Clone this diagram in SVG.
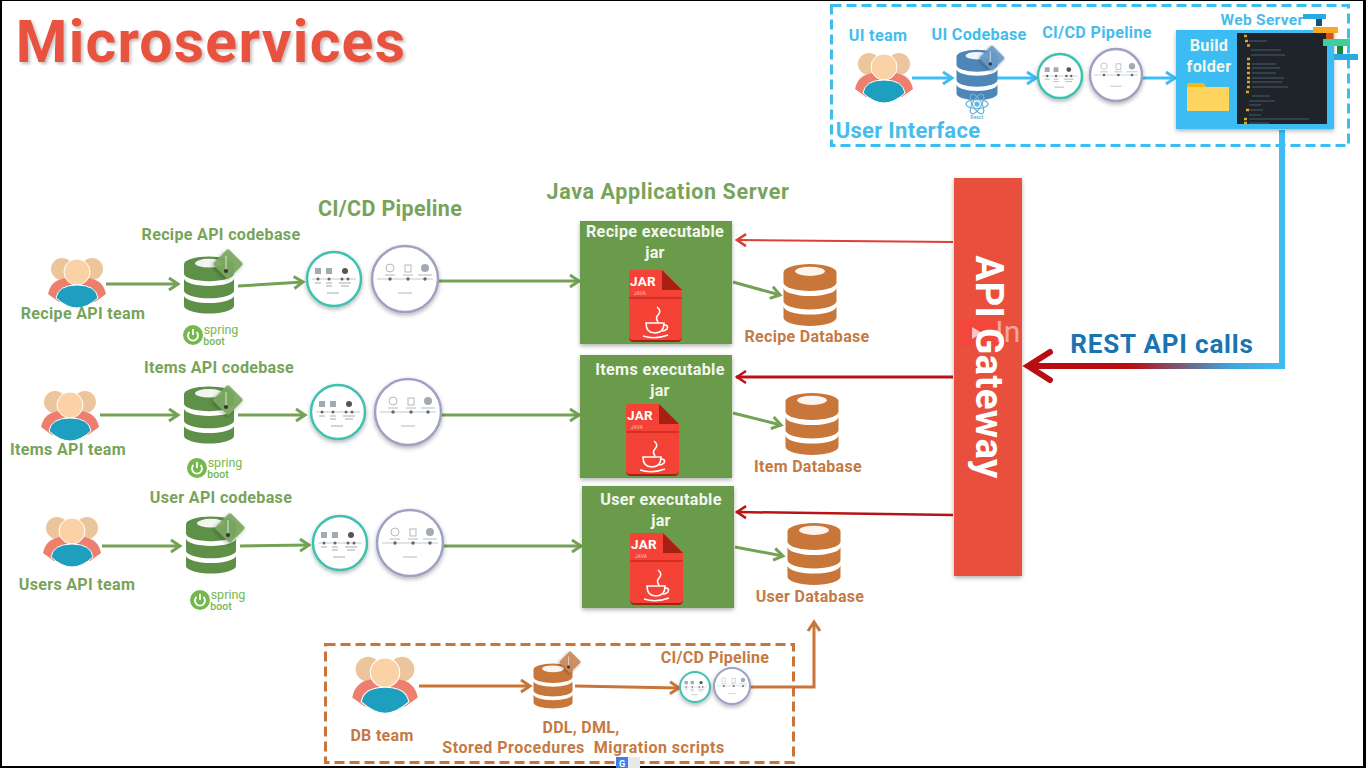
<svg xmlns="http://www.w3.org/2000/svg" width="1366" height="768" viewBox="0 0 1366 768">
<style>
text{font-family:"Roboto","Liberation Sans",sans-serif;font-weight:700;text-anchor:middle;letter-spacing:.3px}
.g{fill:#78a35a;font-size:16.100px}
.gb{fill:#78a35a;font-size:21.500px}
.o{fill:#c47a45;font-size:16px}
.b{fill:#45bcec;font-size:16.200px}
.w{fill:#f2f7ee;font-size:16.200px}
.c{fill:none;stroke-width:3}
.cg{stroke:#74a254;marker-end:url(#mg)}
.cb{stroke:#3fbdf2;marker-end:url(#mb)}
.co{stroke:#c9753a;marker-end:url(#mo)}
.box{fill:#6a9b4c;filter:url(#sh)}
.p1{fill:#fff;stroke:#3fc1b0;stroke-width:2.500;filter:url(#sh)}
.p2{fill:#fff;stroke:#9ea1c4;stroke-width:2.500;filter:url(#sh)}
.tl{fill:none;stroke:#b4b9bd;stroke-width:.8}
.td{fill:#666}
.ti{fill:#a3abb2}
.gdb{color:#5f9048}
.odb{color:#c9763a}
</style>
<defs>
<filter id="sh" x="-20%" y="-20%" width="140%" height="140%"><feDropShadow dx="0" dy="2" stdDeviation="2" flood-color="#000" flood-opacity=".3"/></filter>
<filter id="ts" x="-5%" y="-20%" width="110%" height="140%"><feDropShadow dx="2" dy="2" stdDeviation="1.500" flood-color="#000" flood-opacity=".25"/></filter>
<linearGradient id="rest" gradientUnits="userSpaceOnUse" x1="1285" y1="0" x2="1130" y2="0"><stop offset="0" stop-color="#3fbdf2"/><stop offset=".35" stop-color="#3fa5dc"/><stop offset="1" stop-color="#b80d12"/></linearGradient>
<marker id="mg" markerUnits="userSpaceOnUse" markerWidth="16" markerHeight="16" refX="12" refY="8" orient="auto"><path d="M3,2 L12,8 L3,14" fill="none" stroke="#74a254" stroke-width="3"/></marker>
<marker id="mb" markerUnits="userSpaceOnUse" markerWidth="16" markerHeight="16" refX="12" refY="8" orient="auto"><path d="M3,2 L12,8 L3,14" fill="none" stroke="#3fbdf2" stroke-width="3"/></marker>
<marker id="mo" markerUnits="userSpaceOnUse" markerWidth="16" markerHeight="16" refX="12" refY="8" orient="auto"><path d="M3,2 L12,8 L3,14" fill="none" stroke="#c9753a" stroke-width="3"/></marker>
<marker id="mr" markerUnits="userSpaceOnUse" markerWidth="16" markerHeight="16" refX="13" refY="8" orient="auto"><path d="M3,2 L12,8 L3,14" fill="none" stroke="#dc3f35" stroke-width="2.500"/></marker>
<marker id="md" markerUnits="userSpaceOnUse" markerWidth="16" markerHeight="16" refX="13" refY="8" orient="auto"><path d="M3,2 L12,8 L3,14" fill="none" stroke="#b81418" stroke-width="2.500"/></marker>
<g id="team">
<circle cx="-15" cy="-14" r="11" fill="#edc59d"/><circle cx="15" cy="-14" r="11" fill="#edc59d"/>
<path d="M-29,11 Q-26,-4 -10,-5 L10,-5 Q26,-4 29,11 L18,19 L-18,19 Z" fill="#ee7f6e"/>
<circle cx="0" cy="-11" r="13" fill="#fad2a6" stroke="#fff" stroke-width="1"/>
<path d="M-21,15 Q-19,2 0,2 Q19,2 21,15 Q10,25 0,25 Q-10,25 -21,15 Z" fill="#1f9fc0" stroke="#fff" stroke-width="1"/>
</g>
<g id="db" fill="currentColor">
<path d="M-25,-22 A25,8 0 0 1 25,-22 V-12 A25,8 0 0 1 -25,-12 Z"/>
<path d="M-25,-7 A25,8 0 0 0 25,-7 V6 A25,8 0 0 1 -25,6 Z"/>
<path d="M-25,11 A25,8 0 0 0 25,11 V22 A25,8 0 0 1 -25,22 Z"/>
<ellipse cx="0" cy="-23" rx="14" ry="4.500" fill="#fff" fill-opacity=".92"/>
</g>
<g id="tag">
<rect x="-11" y="-11" width="22" height="22" rx="2" transform="rotate(45)" fill="currentColor" fill-opacity=".92" filter="url(#sh)"/>
<path d="M-2,-8 V7" stroke="#fff" stroke-opacity=".5" stroke-width="1.500"/>
<circle cx="-2" cy="7" r="2" fill="#333"/>
</g>
<g id="pipeA">
<path d="M-22,0 H22" class="tl"/>
<circle cx="-16" cy="0" r="1.500" class="td"/><circle cx="-5" cy="0" r="1.500" class="td"/><circle cx="8" cy="0" r="1.500" class="td"/><circle cx="14" cy="0" r="1.500" class="td"/>
<rect x="-19" y="-11" width="6" height="6" class="ti"/><rect x="-8" y="-11" width="6" height="6" class="ti"/><rect x="8" y="-11" width="6" height="6" rx="3" fill="#555"/>
<path d="M-19,4 h6 M-8,4 h6 M-8,7 h6 M5,4 h12 M7,7 h8 M-7,14 h12" stroke="#a3abb2" stroke-width="1"/>
</g>
<g id="pipeB">
<path d="M-28,0 H28" class="tl"/>
<circle cx="-15" cy="0" r="1.700" class="td"/><circle cx="3" cy="0" r="1.700" class="td"/><circle cx="20" cy="0" r="1.700" class="td"/>
<circle cx="-15" cy="-11" r="4" fill="none" stroke="#b4b9bd"/><rect x="0" y="-14" width="6" height="7" fill="none" stroke="#b4b9bd"/><circle cx="20" cy="-11" r="4" class="ti"/>
<path d="M-20,-4 h10 M-2,-4 h10 M13,-4 h14 M-7,14 h14" stroke="#b4b9bd" stroke-width="1"/>
</g>
<g id="jar">
<path d="M-26,-34 Q-26,-36 -24,-36 H7 L27,-16 V30 Q27,34 23,34 H-22 Q-26,34 -26,30 Z" fill="#f44336"/>
<path d="M7,-36 L27,-16 H7 Z" fill="#a81f14"/>
<path d="M-26,-8 H27" stroke="#c9281c" stroke-width="1.500"/>
<path d="M-26,30 Q-26,34 -22,34 H23 Q27,34 27,30 V31 Q27,36 22,36 H-21 Q-26,36 -26,31 Z" fill="#a81f14"/>
<text x="-12" y="-20" style="font-size:13.500px;fill:#fff">JAR</text>
<text x="-15" y="-11" style="font-size:4.500px;fill:#ffc9c2;font-weight:400">JAVA</text>
<g fill="none" stroke="#fff" stroke-width="1.600">
<path d="M2,1 Q7,5 3,9 Q0,12 3,16"/><path d="M-9,17 Q-9,27 0,27 Q9,27 9,17 Z"/><path d="M9,19 Q14,19 12,23 Q10,25 7,25"/><path d="M-12,30 Q0,34 13,29"/>
</g>
</g>
<g id="spring">
<circle cx="-15" cy="0" r="10" fill="#74b84e"/>
<path d="M-18.500,-3 A5,5 0 1 0 -11.500,-3 M-15,-6 V0" fill="none" stroke="#fff" stroke-width="1.800"/>
<text x="13" y="-1" style="font-size:12.500px;fill:#74b84e;font-weight:400;letter-spacing:0">spring</text>
<text x="6" y="10" style="font-size:10.500px;fill:#74b84e;font-weight:500;letter-spacing:0">boot</text>
</g>
</defs>

<rect width="1366" height="768" fill="#000"/>
<rect x="2" y="1" width="1361" height="765" fill="#fff"/>

<text id="title" x="211" y="62" filter="url(#ts)" style="font-size:59px;fill:#e8523f;letter-spacing:1.200px">Microservices</text>
<text class="gb" x="390" y="216">CI/CD Pipeline</text>
<text class="gb" x="668" y="199" style="letter-spacing:.6px">Java Application Server</text>

<g id="ui-section">
<rect x="831.500" y="5.500" width="517" height="140" fill="none" stroke="#3dbcf0" stroke-width="3" stroke-dasharray="10 5"/>
<text class="b" x="878" y="41">UI team</text>
<text class="b" x="979" y="40">UI Codebase</text>
<text class="b" x="1097" y="38">CI/CD Pipeline</text>
<text x="908" y="138" style="font-size:22px;fill:#45bcec">User Interface</text>
</g>
<g id="db-section">
<rect x="325.500" y="644.500" width="468" height="118" fill="none" stroke="#c9753a" stroke-width="3" stroke-dasharray="10 5"/>
<text class="o" x="382" y="741">DB team</text>
<text class="o" x="715" y="663">CI/CD Pipeline</text>
<text class="o" x="581" y="733">DDL, DML,</text>
<text class="o" x="583.500" y="753" style="white-space:pre;letter-spacing:.5px">Stored Procedures  Migration scripts</text>
</g>

<g id="connectors">
<g class="c">
<path class="cg" d="M106,284 H178"/><path class="cg" d="M238,286 L303,282"/><path class="cg" d="M438,281 H579"/><path class="cg" d="M733,282 L780,295"/>
<path class="cg" d="M100,415 H178"/><path class="cg" d="M238,415 H305"/><path class="cg" d="M441,415 H579"/><path class="cg" d="M733,413 L781,425"/>
<path class="cg" d="M102,546 H180"/><path class="cg" d="M240,546 L309,545"/><path class="cg" d="M443,546 H581"/><path class="cg" d="M735,547 L783,556"/>
<path class="cb" d="M912,78 H952"/><path class="cb" d="M994,78 H1036"/><path class="cb" d="M1135,78 H1175"/>
<path class="co" d="M419,686 H530"/><path class="co" d="M575,686 L679,688"/><path class="co" d="M750,687 H814 V622"/>
</g>
<path d="M953,242 L736,240" fill="none" stroke="#dc3f35" stroke-width="2" marker-end="url(#mr)"/>
<path d="M953,377 H736" fill="none" stroke="#b81418" stroke-width="3" marker-end="url(#md)"/>
<path d="M953,515 L736,512" fill="none" stroke="#b81418" stroke-width="2.500" marker-end="url(#md)"/>
<path d="M1282,130 V369" fill="none" stroke="#3fbdf2" stroke-width="6"/>
<rect x="1030" y="363" width="255" height="6" fill="url(#rest)"/>
<path d="M1050,352 L1028,366 L1050,380" fill="none" stroke="#b80d12" stroke-width="6" stroke-linecap="round"/>
</g>

<g id="ui-team"><use href="#team" transform="translate(884,78)"/></g>
<g id="ui-codebase" color="#4f86b8">
<use href="#db" transform="translate(977,75) scale(.82,.84)"/>
<use href="#tag" transform="translate(992,58) scale(.85)" color="#6a9ac8"/>
<g fill="none" stroke="#63b3dc" stroke-width="1.200"><ellipse cx="977" cy="104" rx="11" ry="4.500"/><ellipse cx="977" cy="104" rx="11" ry="4.500" transform="rotate(60 977 104)"/><ellipse cx="977" cy="104" rx="11" ry="4.500" transform="rotate(120 977 104)"/><circle cx="977" cy="104" r="2" fill="#63b3dc"/></g>
<text x="977" y="119" style="font-size:4.500px;fill:#63b3dc">React</text>
</g>
<g id="ui-pipeline">
<circle class="p1" cx="1060" cy="76" r="22"/><use href="#pipeA" transform="translate(1060,76) scale(.8)"/>
<circle class="p2" cx="1116" cy="75" r="26"/><use href="#pipeB" transform="translate(1116,75) scale(.8)"/>
</g>
<g id="web-server">
<text class="b" x="1262" y="25" style="font-size:15.500px">Web Server</text>
<rect x="1176" y="30" width="158" height="99" fill="#3ebcf4" filter="url(#sh)"/>
<rect x="1237" y="33" width="90" height="91" fill="#1e2429"/>
<text class="w" x="1209" y="51">Build</text><text class="w" x="1209" y="72">folder</text>
<path d="M1187,83 H1203 L1206,87 H1229 V111 H1187 Z" fill="#fdd45e"/><path d="M1187,83 H1203 L1206,87 H1187 Z" fill="#f9b60c"/>
<path d="M1249,41 h18 M1251,50 h30 M1251,55 h34 M1252,64 h24 M1252,68 h28 M1252,73 h24 M1252,78 h32 M1252,82 h30 M1252,87 h36 M1252,96 h18 M1249,101 h26 M1249,105 h12 M1249,110 h14 M1249,115 h12 M1249,119 h60 M1249,123 h20" stroke="#3d4a54" stroke-width="1.500"/>
<path d="M1244,36 h3 M1245,41 h3 M1247,45.500 h3 M1247,59 h3 M1247,64 h3 M1247,68 h3 M1247,73 h3 M1247,78 h3 M1247,82 h3 M1247,87 h3 M1246,92 h3 M1246,110 h3 M1244,119 h3 M1244,123 h3" stroke="#d9a92c" stroke-width="2.500"/>
<rect x="1303" y="14" width="23" height="5" fill="#29a9e1"/><rect x="1316" y="19" width="6" height="7" fill="#14527a"/>
<rect x="1313" y="27" width="25" height="6" fill="#f9a825"/><rect x="1326" y="33" width="7" height="6" fill="#d2551c"/>
<rect x="1323" y="39" width="27" height="7" fill="#3ccf9c"/><rect x="1337" y="46" width="6" height="8" fill="#1b8a3c"/>
<rect x="1334" y="54" width="24" height="6" fill="#29a9e1"/>
</g>

<g id="api-gateway">
<rect x="954" y="178" width="68" height="398" fill="#e94f3d" filter="url(#sh)"/>
<g id="watermark">
<rect x="957" y="320" width="42" height="26" rx="6" fill="#f4473c"/>
<path d="M972,327 L982,333 L972,339 Z" fill="#f8c9c2"/>
</g>
<text transform="translate(976,367) rotate(90)" style="font-size:38.500px;fill:#fff">API Gateway</text>
<text x="1008" y="342" style="font-size:30px;font-weight:400;fill:#fff;fill-opacity:.5">In</text>
</g>
<text id="rest-label" x="1162" y="353" style="font-size:26px;fill:#1a74b0;letter-spacing:.8px">REST API calls</text>

<g id="recipe-team"><use href="#team" transform="translate(77,283)"/><text class="g" x="83" y="319">Recipe API team</text></g>
<g id="recipe-codebase" class="gdb"><text class="g" x="221" y="240">Recipe API codebase</text><use href="#db" transform="translate(209,285) scale(1,.95)"/><use href="#tag" transform="translate(228,264)" color="#7aa860"/><use href="#spring" transform="translate(208,335)"/></g>
<g id="recipe-pipeline"><circle class="p1" cx="334" cy="279" r="27"/><use href="#pipeA" transform="translate(334,279)"/><circle class="p2" cx="405" cy="279" r="33"/><use href="#pipeB" transform="translate(405,279)"/></g>
<g id="recipe-jar"><rect class="box" x="580" y="221" width="152" height="123"/><text class="w" x="655" y="237">Recipe executable</text><text class="w" x="655" y="258">jar</text><use href="#jar" transform="translate(655,306)"/></g>
<g id="recipe-db" class="odb"><use href="#db" transform="translate(810,295) scale(1.06,1.03)"/><text class="o" x="807" y="342">Recipe Database</text></g>

<g id="items-team"><use href="#team" transform="translate(70,416)"/><text class="g" x="68" y="455">Items API team</text></g>
<g id="items-codebase" class="gdb"><text class="g" x="219" y="373">Items API codebase</text><use href="#db" transform="translate(209,415) scale(1,.95)"/><use href="#tag" transform="translate(228,400)" color="#7aa860"/><use href="#spring" transform="translate(212,468)"/></g>
<g id="items-pipeline"><circle class="p1" cx="338" cy="412" r="27"/><use href="#pipeA" transform="translate(338,412)"/><circle class="p2" cx="408" cy="412" r="33"/><use href="#pipeB" transform="translate(408,412)"/></g>
<g id="items-jar"><rect class="box" x="580" y="355" width="152" height="123"/><text class="w" x="660" y="375">Items executable</text><text class="w" x="660" y="396">jar</text><use href="#jar" transform="translate(652,440)"/></g>
<g id="items-db" class="odb"><use href="#db" transform="translate(812,424) scale(1.06,1.03)"/><text class="o" x="808" y="472">Item Database</text></g>

<g id="users-team"><use href="#team" transform="translate(72,542)"/><text class="g" x="77" y="590">Users API team</text></g>
<g id="user-codebase" class="gdb"><text class="g" x="221" y="503">User API codebase</text><use href="#db" transform="translate(211,545) scale(1,.95)"/><use href="#tag" transform="translate(230,528)" color="#7aa860"/><use href="#spring" transform="translate(215,600)"/></g>
<g id="user-pipeline"><circle class="p1" cx="340" cy="543" r="27"/><use href="#pipeA" transform="translate(340,543)"/><circle class="p2" cx="410" cy="543" r="33"/><use href="#pipeB" transform="translate(410,543)"/></g>
<g id="user-jar"><rect class="box" x="582" y="486" width="152" height="122"/><text class="w" x="661" y="505">User executable</text><text class="w" x="661" y="526">jar</text><use href="#jar" transform="translate(656,569)"/></g>
<g id="user-db" class="odb"><use href="#db" transform="translate(814,554) scale(1.06,1.03)"/><text class="o" x="810" y="602">User Database</text></g>

<g id="db-team"><use href="#team" transform="translate(385,685) scale(1.13)"/></g>
<g id="db-scripts" class="odb"><use href="#db" transform="translate(553,686) scale(.78,.75)"/><use href="#tag" transform="translate(570,662) scale(.72)" color="#c98a5c"/></g>
<g id="db-pipeline"><circle class="p1" cx="695" cy="687" r="15" style="stroke-width:2"/><use href="#pipeA" transform="translate(695,687) scale(.55)"/><circle class="p2" cx="732" cy="686" r="18" style="stroke-width:2"/><use href="#pipeB" transform="translate(732,686) scale(.55)"/></g>

<g id="translate-badge"><rect x="628" y="757" width="12" height="11" fill="#e8e8e8"/><rect x="616" y="757" width="12" height="11" fill="#3f7fe8"/><text x="622" y="767" style="font-size:9px;fill:#fff;letter-spacing:0">G</text></g>
</svg>
